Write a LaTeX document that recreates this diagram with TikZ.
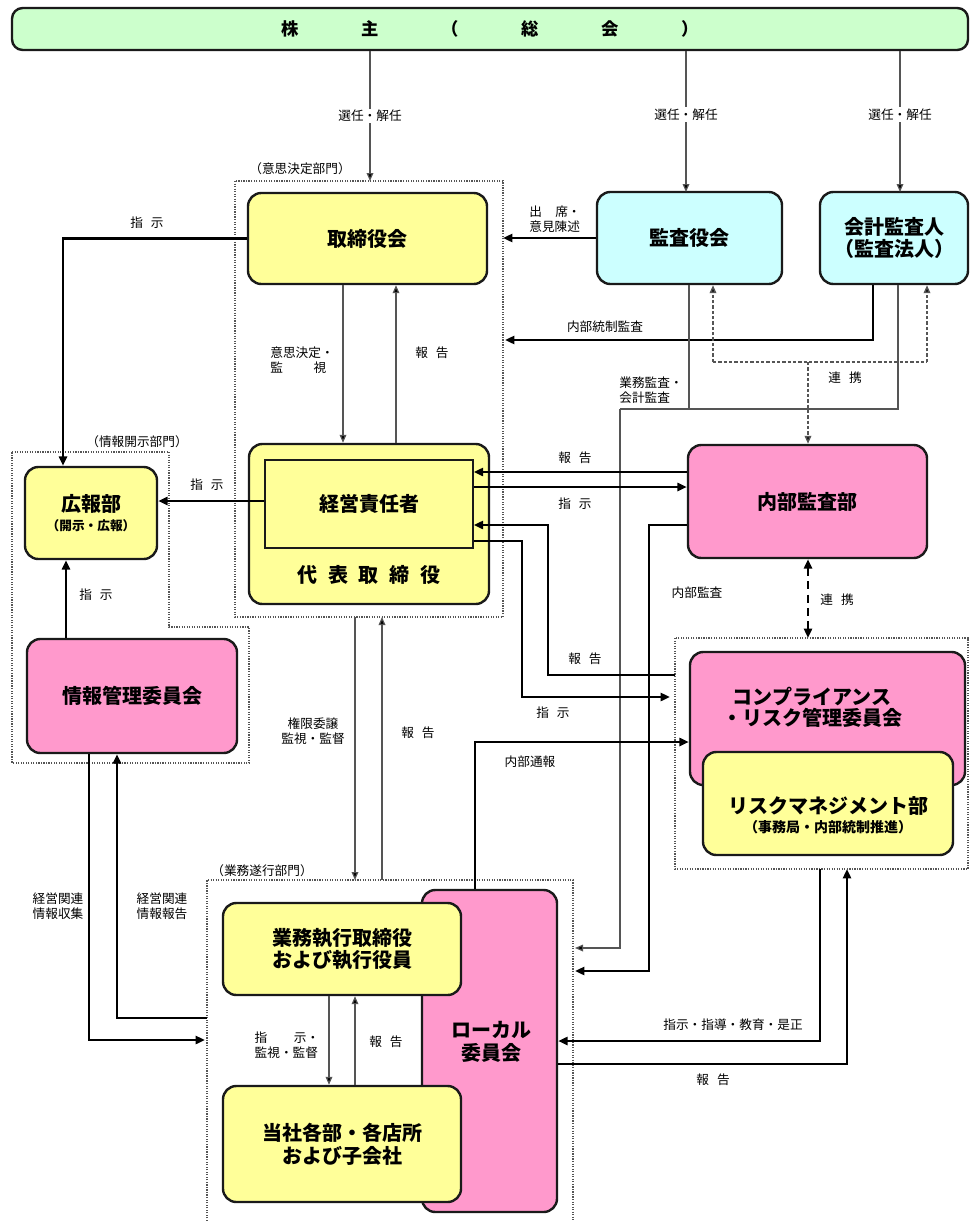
\documentclass[tikz,border=0pt]{standalone}
\usepackage{fontspec}
\setmainfont{Noto Sans CJK JP}
\usetikzlibrary{arrows.meta}
\definecolor{cyel}{HTML}{FFFF99}
\definecolor{ccyan}{HTML}{CCFFFF}
\definecolor{cpink}{HTML}{FF99CC}
\definecolor{cgreen}{HTML}{CCFFCC}
\definecolor{cline}{HTML}{1A1A1A}
\definecolor{cthin}{HTML}{555555}
\begin{document}
\begin{tikzpicture}[x=0.75pt,y=-0.75pt,
  bx/.style={draw=cline, line width=1.8pt, rounded corners=10pt, align=center, inner sep=0pt,
     font=\fontsize{15}{17}\selectfont\bfseries},
  lbl/.style={font=\fontsize{9.5}{11.5}\selectfont, align=center, inner sep=1pt},
  lblw/.style={lbl, fill=white},
  thk/.style={line width=1.8pt, draw=black, -{Triangle[length=7pt,width=6pt]}},
  thkn/.style={line width=1.8pt, draw=black},
  thn/.style={line width=0.9pt, draw=cthin, -{Triangle[length=6pt,width=5pt,fill=black]}},
  thnn/.style={line width=0.9pt, draw=cthin},
  dotb/.style={draw=cthin, line width=0.9pt, densely dotted},
  dsh/.style={draw=cthin, line width=1.1pt, dash pattern=on 2.5pt off 1.5pt},
  dsharrow/.style={dsh, -{Triangle[length=6pt,width=5pt,fill=black]}},
  thkdash/.style={line width=1.8pt, draw=black, dash pattern=on 6pt off 4pt, {Triangle[length=7pt,width=6pt]}-{Triangle[length=7pt,width=6pt]}},
]
\useasboundingbox (0,0) rectangle (972,1221);

% ---- dotted areas
\draw[dotb] (235,181) rectangle (503,617);
\draw[dotb] (12,452) -- (169,452) -- (169,627) -- (249,627) -- (249,763) -- (12,763) -- cycle;
\draw[dotb] (675,638) rectangle (968,869);
\draw[dotb] (207,1221) -- (207,880) -- (573,880) -- (573,1221);
\node[lbl] at (300,169) {（意思決定部門）};
\node[lbl] at (137,442) {（情報開示部門）};
\node[lbl] at (262,871) {（業務遂行部門）};

% ---- boxes
\node[bx, fill=cgreen, rounded corners=8pt, minimum width=717pt, minimum height=31.5pt,
      font=\fontsize{13}{15}\selectfont\bfseries] (top) at (490,29)
   {株\hspace{47pt}主\hspace{47pt}（\hspace{47pt}総\hspace{47pt}会\hspace{47pt}）};
\node[bx, fill=cyel, minimum width=179.25pt, minimum height=68.25pt] (tori) at (367.5,238.5) {取締役会};
\node[bx, fill=ccyan, minimum width=138.75pt, minimum height=69pt] (kansa) at (689.5,238) {監査役会};
\node[bx, fill=ccyan, minimum width=111pt, minimum height=69pt] (kaikei) at (894,238) {会計監査人\\（監査法人）};
\node[bx, fill=cyel, minimum width=180pt, minimum height=120pt] (daihyo) at (369,524) {};
\node[draw=cline, line width=1.1pt, fill=cyel, minimum width=156pt, minimum height=66pt, inner sep=0pt,
      font=\fontsize{15}{17}\selectfont\bfseries] (keiei) at (369,504) {経営責任者};
\node[font=\fontsize{15}{17}\selectfont\bfseries, inner sep=0pt] (daihyoT) at (369,575)
   {代\hspace{8pt}表\hspace{8pt}取\hspace{8pt}締\hspace{8pt}役};
\node[bx, fill=cyel, minimum width=99pt, minimum height=69pt] (koho) at (91,513)
   {広報部\\[-3pt]{\fontsize{9.5}{11}\selectfont （開示・広報）}};
\node[bx, fill=cpink, minimum width=157.5pt, minimum height=85.5pt] (joho) at (132,696) {情報管理委員会};
\node[bx, fill=cpink, minimum width=179.25pt, minimum height=84.75pt] (naibu) at (807.5,501.5) {内部監査部};
\node[bx, fill=cpink, minimum width=206.25pt, minimum height=99.75pt] (comp) at (827.5,718.5) {};
\node[font=\fontsize{15}{16}\selectfont\bfseries, align=center, inner sep=0pt] (compT) at (812,707)
   {コンプライアンス\\・リスク管理委員会};
\node[bx, fill=cyel, minimum width=187.5pt, minimum height=77.25pt] (risk) at (828,803.5) {};
\node[font=\fontsize{15}{17}\selectfont\bfseries, align=center, inner sep=0pt] (riskT) at (828,815)
   {リスクマネジメント部\\[-3pt]{\fontsize{10.5}{12}\selectfont （事務局・内部統制推進）}};
\node[bx, fill=cpink, minimum width=101.25pt, minimum height=241.5pt] (local) at (489.5,1051) {};
\node[font=\fontsize{15}{17}\selectfont\bfseries, align=center, inner sep=0pt] (localT) at (491,1042) {ローカル\\委員会};
\node[bx, fill=cyel, minimum width=178.5pt, minimum height=69pt] (gyomu) at (342,949) {業務執行取締役\\および執行役員};
\node[bx, fill=cyel, minimum width=178.5pt, minimum height=87pt] (tosha) at (342,1144) {当社各部・各店所\\および子会社};

% ---- coordinates
\coordinate (c1) at (370,181);
\coordinate (c2) at (686,192);
\coordinate (c3) at (900,192);
\coordinate (e1) at (503,238);
\coordinate (k1) at (63,238);
\coordinate (d1) at (343,0);
\coordinate (d2) at (396,0);
\coordinate (f1) at (873,340);
\coordinate (f2) at (505,340);
\coordinate (g1) at (713,362);
\coordinate (g2) at (927,362);
\coordinate (g3) at (808,362);
\coordinate (h1) at (689,409);
\coordinate (h2) at (898,409);
\coordinate (h3) at (620,409);
\coordinate (h4) at (575,948);
\coordinate (i1) at (0,472);
\coordinate (j1) at (0,487);
\coordinate (k2) at (675,675);
\coordinate (k3) at (548,525);
\coordinate (l1) at (522,541);
\coordinate (l2) at (670,697);
\coordinate (m1) at (649,525);
\coordinate (m2) at (575,971);
\coordinate (n1) at (0,501);
\coordinate (o1) at (66,0);
\coordinate (p1) at (808,638);
\coordinate (q1) at (355,617);
\coordinate (q2) at (355,880);
\coordinate (r1) at (382,880);
\coordinate (r2) at (382,617);
\coordinate (s1) at (475,742);
\coordinate (t1) at (89,1040);
\coordinate (t2) at (205,1040);
\coordinate (u1) at (207,1018);
\coordinate (u2) at (117,1018);
\coordinate (v1) at (329,0);
\coordinate (w1) at (355,0);
\coordinate (x1) at (820,869);
\coordinate (x2) at (820,1041);
\coordinate (y1) at (847,1064);
\coordinate (y2) at (847,869);

% ---- connectors
\draw[thn] (top.south -| c1) -- node[lblw, pos=0.5] {選任・解任} (c1);
\draw[thn] (top.south -| c2) -- node[lblw, pos=0.45] {選任・解任} (c2);
\draw[thn] (top.south -| c3) -- node[lblw, pos=0.45] {選任・解任} (c3);

\draw[thk] (kansa.west) -- (e1);
\node[lbl, align=left] at (555,219) {出\hspace{10pt}席・\\意見陳述};

\draw[thk] (tori.west) -| (k1 |- koho.north);
\node[lbl] at (147,223) {指\hspace{6pt}示};

\draw[thn] (tori.south -| d1) -- (daihyo.north -| d1);
\draw[thn] (daihyo.north -| d2) -- (tori.south -| d2);
\node[lbl, align=left] at (302,360) {意思決定・\\監\hspace{23pt}視};
\node[lbl] at (432,353) {報\hspace{6pt}告};

\draw[thk] (kaikei.south -| f1) |- (f2);
\node[lbl] at (605,327) {内部統制監査};

\draw[dsharrow] (g1) -- (kansa.south -| g1);
\draw[dsharrow] (g2) -- (kaikei.south -| g2);
\draw[dsh] (g1) -- (g2);
\draw[dsharrow] (g3) -- (naibu.north -| g3);
\node[lbl] at (845,378) {連\hspace{6pt}携};

\draw[thnn] (kansa.south -| h1) -- (h1);
\draw[thnn] (kaikei.south -| h2) -- (h2) -- (h3);
\draw[thn] (h3) |- (h4);
\node[lbl, align=left] at (651,390) {業務監査・\\会計監査};

\draw[thk] (naibu.west |- i1) -- (keiei.east |- i1);
\node[lbl] at (575,458) {報\hspace{6pt}告};
\draw[thk] (keiei.east |- j1) -- (naibu.west |- j1);
\node[lbl] at (575,504) {指\hspace{6pt}示};

\draw[thk] (k2) -| (k3) -- (keiei.east |- k3);
\node[lbl] at (585,659) {報\hspace{6pt}告};
\draw[thk] (keiei.east |- l1) -- (l1) |- (l2);
\node[lbl] at (553,713) {指\hspace{6pt}示};

\draw[thk] (naibu.west |- m1) -- (m1) |- (m2);
\node[lbl] at (697,593) {内部監査};

\draw[thk] (keiei.west |- n1) -- (koho.east |- n1);
\node[lbl] at (207,485) {指\hspace{6pt}示};

\draw[thk] (joho.north -| o1) -- (koho.south -| o1);
\node[lbl] at (96,595) {指\hspace{6pt}示};

\draw[thkdash] (naibu.south -| p1) -- (p1);
\node[lbl] at (837,600) {連\hspace{6pt}携};

\draw[thn] (q1) -- (q2);
\draw[thn] (r1) -- (r2);
\node[lbl] at (313,731) {権限委譲\\監視・監督};
\node[lbl] at (418,733) {報\hspace{6pt}告};

\draw[thk] (local.north -| s1) -- (s1) -- (comp.west |- s1);
\node[lbl] at (530,762) {内部通報};

\draw[thk] (joho.south -| t1) -- (t1) -- (t2);
\node[lblw, inner sep=0pt] at (58,906) {経営関連\\情報収集};
\draw[thk] (u1) -- (u2) -- (joho.south -| u2);
\node[lbl] at (162,906) {経営関連\\情報報告};

\draw[thn] (gyomu.south -| v1) -- (tosha.north -| v1);
\draw[thn] (tosha.north -| w1) -- (gyomu.south -| w1);
\node[lbl, align=left] at (287,1045) {指\hspace{20pt}示・\\監視・監督};
\node[lbl] at (386,1042) {報\hspace{6pt}告};

\draw[thk] (x1) -- (x2) -- (local.east |- x2);
\node[lbl] at (733,1025) {指示・指導・教育・是正};
\draw[thk] (local.east |- y1) -- (y1) -- (y2);
\node[lbl] at (713,1080) {報\hspace{6pt}告};
\end{tikzpicture}
\end{document}
